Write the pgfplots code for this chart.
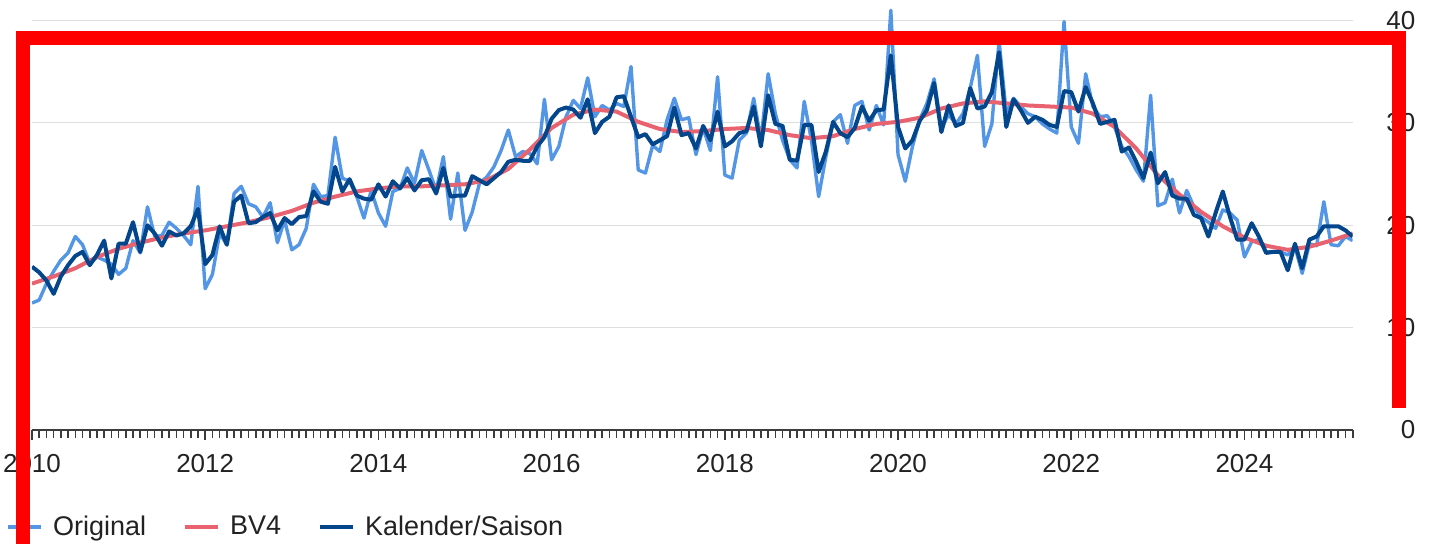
\documentclass[border=0pt]{standalone}
\usepackage{pgfplots}
\pgfplotsset{compat=1.18}
\usepackage{pgfplotstable}
\usepackage{fontspec}
\setmainfont{Liberation Sans}
\definecolor{origc}{RGB}{84,150,230}
\definecolor{bvc}{RGB}{232,98,112}
\definecolor{ksc}{RGB}{3,70,140}
\definecolor{gridc}{RGB}{221,221,221}
\definecolor{txtc}{RGB}{34,34,34}
\definecolor{axisc}{RGB}{60,60,60}

\pgfplotstableread{
m v
0 12.4
1 12.7
2 14.3
3 15.5
4 16.6
5 17.3
6 18.9
7 18.1
8 16.3
9 16.9
10 16.6
11 16.2
12 15.2
13 15.8
14 18.5
15 17.3
16 21.8
17 18.9
18 19.0
19 20.3
20 19.7
21 19.0
22 18.1
23 23.8
24 13.8
25 15.2
26 19.2
27 18.1
28 23.1
29 23.8
30 22.1
31 21.8
32 20.8
33 22.2
34 18.3
35 20.5
36 17.6
37 18.1
38 19.7
39 24.0
40 22.8
41 22.9
42 28.6
43 24.6
44 24.3
45 22.8
46 20.7
47 23.4
48 21.2
49 19.9
50 23.3
51 23.6
52 25.6
53 24.1
54 27.3
55 25.4
56 23.4
57 26.7
58 20.6
59 25.1
60 19.5
61 21.3
62 24.1
63 24.7
64 25.7
65 27.3
66 29.3
67 26.7
68 27.2
69 27.0
70 26.0
71 32.3
72 26.4
73 27.7
74 30.6
75 32.2
76 31.4
77 34.4
78 30.6
79 31.7
80 31.25
81 31.9
82 31.6
83 35.5
84 25.4
85 25.1
86 27.8
87 27.2
88 30.3
89 32.4
90 30.3
91 30.5
92 26.9
93 29.5
94 27.3
95 34.5
96 24.9
97 24.6
98 28.3
99 29.0
100 32.4
101 28.3
102 34.8
103 30.9
104 28.3
105 26.4
106 25.6
107 32.1
108 28.3
109 22.8
110 26.7
111 30.1
112 30.8
113 28.0
114 31.7
115 32.1
116 29.3
117 31.7
118 29.8
119 41.0
120 26.9
121 24.3
122 27.7
123 30.3
124 31.9
125 34.3
126 29.5
127 30.8
128 29.9
129 30.9
130 33.4
131 36.6
132 27.7
133 29.9
134 38.0
135 30.9
136 32.4
137 31.6
138 30.9
139 30.6
140 29.9
141 29.4
142 29.0
143 39.9
144 29.6
145 28.0
146 34.8
147 31.6
148 30.6
149 30.7
150 29.6
151 27.7
152 26.7
153 25.4
154 24.3
155 32.7
156 21.9
157 22.2
158 24.5
159 21.2
160 23.4
161 21.8
162 20.8
163 20.3
164 19.7
165 21.5
166 21.2
167 20.5
168 16.9
169 18.4
170 18.6
171 17.4
172 17.4
173 17.4
174 17.1
175 17.9
176 15.3
177 18.2
178 18.0
179 22.3
180 18.1
181 18.0
182 18.9
183 18.5
}\orig

\pgfplotstableread{
m v
0 14.3
3 15.0
6 15.8
9 16.9
12 17.7
15 18.3
18 18.8
21 19.2
24 19.5
27 19.9
30 20.3
33 20.8
36 21.4
39 22.2
42 22.8
45 23.3
48 23.6
51 23.8
54 23.8
57 23.9
60 24.0
63 24.4
66 25.5
69 27.4
72 29.5
75 30.8
78 31.3
81 31.1
84 30.1
87 29.4
90 29.1
93 29.2
96 29.4
99 29.5
102 29.3
105 28.8
108 28.5
111 28.7
114 29.4
117 29.9
120 30.1
123 30.5
126 31.4
129 31.9
132 32.1
135 31.9
138 31.7
141 31.6
144 31.5
147 30.9
150 29.6
153 27.5
156 24.9
159 23.0
162 21.3
165 19.9
168 18.8
171 18.0
174 17.6
177 17.9
180 18.5
183 19.2
}\bvier

\pgfplotstableread{
m v
0 15.95
1 15.4
2 14.6
3 13.3
4 15.0
5 16.1
6 17.0
7 17.4
8 16.1
9 17.1
10 18.5
11 14.8
12 18.2
13 18.2
14 20.3
15 17.4
16 20.0
17 19.2
18 18.0
19 19.4
20 19.0
21 19.2
22 19.9
23 21.6
24 16.2
25 17.1
26 19.9
27 18.1
28 22.3
29 22.9
30 20.2
31 20.3
32 20.8
33 21.2
34 19.5
35 20.7
36 20.1
37 20.8
38 20.9
39 23.3
40 22.3
41 22.1
42 25.7
43 23.3
44 24.5
45 22.9
46 22.6
47 22.5
48 24.0
49 22.8
50 24.3
51 23.6
52 24.6
53 23.4
54 24.4
55 24.5
56 23.1
57 25.6
58 22.8
59 22.9
60 22.9
61 24.8
62 24.4
63 24.0
64 24.6
65 25.2
66 26.2
67 26.4
68 26.3
69 26.3
70 27.7
71 28.6
72 30.4
73 31.25
74 31.5
75 31.3
76 30.5
77 32.3
78 29.0
79 30.1
80 30.6
81 32.5
82 32.6
83 30.6
84 28.6
85 28.9
86 27.9
87 28.3
88 28.7
89 31.5
90 28.8
91 29.0
92 27.5
93 29.7
94 28.3
95 31.1
96 27.7
97 28.2
98 29.0
99 29.2
100 31.6
101 27.7
102 32.7
103 29.9
104 29.7
105 26.4
106 26.3
107 29.8
108 29.8
109 25.2
110 27.2
111 30.1
112 29.0
113 28.6
114 29.5
115 31.6
116 30.2
117 31.25
118 31.3
119 36.6
120 29.6
121 27.5
122 28.3
123 30.2
124 31.25
125 33.9
126 29.1
127 31.7
128 29.7
129 30.0
130 33.4
131 31.4
132 31.6
133 33.0
134 36.9
135 29.6
136 32.3
137 31.25
138 30.0
139 30.6
140 30.3
141 29.8
142 29.6
143 33.1
144 33.0
145 31.1
146 33.5
147 31.9
148 29.9
149 30.1
150 30.3
151 27.2
152 27.6
153 26.2
154 24.6
155 27.1
156 24.1
157 25.2
158 22.9
159 22.6
160 22.6
161 21.0
162 20.7
163 18.9
164 21.2
165 23.3
166 20.8
167 18.6
168 18.6
169 20.2
170 18.9
171 17.3
172 17.4
173 17.4
174 15.6
175 18.2
176 15.8
177 18.6
178 18.9
179 19.9
180 19.9
181 19.9
182 19.5
183 18.9
}\kalsais

\begin{document}
\begin{tikzpicture}[x=1pt,y=1pt]
\useasboundingbox (0,0) rectangle (715,-271.5);
\begin{axis}[
  at={(16pt,-215pt)}, anchor=south west,
  scale only axis, width=660.35pt, height=215pt,
  xmin=0, xmax=183, ymin=0, ymax=42,
  axis x line*=bottom, axis y line*=right,
  x axis line style={draw=axisc, line width=1pt, -},
  y axis line style={draw=none},
  ytick={0,10,20,30,40}, yticklabels={0,10,20,30,40},
  ymajorgrids, grid style={draw=gridc, line width=0.6pt},
  ytick style={draw=none},
  yticklabel style={anchor=east, inner sep=0pt, xshift=26.5pt, font=\fontsize{13}{15}\selectfont, text=txtc},
  xtick={0,24,48,72,96,120,144,168},
  xticklabels={2010,2012,2014,2016,2018,2020,2022,2024},
  minor xtick={0,...,183},
  tick align=outside,
  major tick length=5pt, minor tick length=4pt,
  xtick style={draw=axisc, line width=0.8pt},
  every minor tick/.append style={draw=gray!80, line width=0.5pt},
  xticklabel style={font=\fontsize{13}{15}\selectfont, text=txtc, inner sep=0pt, anchor=north, yshift=-7pt},
  legend style={draw=none, fill=none, at={(axis description cs:-0.0195,-0.2256)}, anchor=west,
    font=\fontsize{13.5}{16}\selectfont, text=txtc, inner sep=0pt,
    /tikz/every even column/.append style={column sep=16.5pt}},
  legend columns=3,
  legend image code/.code={\draw[#1] (0pt,0pt) -- (16.5pt,0pt); \path (19.5pt,0pt);},
]
\addplot[origc, line width=1.7pt, line join=round] table[x=m,y=v] {\orig};
\addlegendentry{Original}
\addplot[bvc, line width=2pt, line join=round] table[x=m,y=v] {\bvier};
\addlegendentry{BV4}
\addplot[ksc, line width=2pt, line join=round] table[x=m,y=v] {\kalsais};
\addlegendentry{Kalender/Saison}
\end{axis}
\draw[red, line width=7.25pt, line join=miter] (11.5,-276) -- (11.5,-19) -- (699.5,-19) -- (699.5,-204);
\end{tikzpicture}
\end{document}
